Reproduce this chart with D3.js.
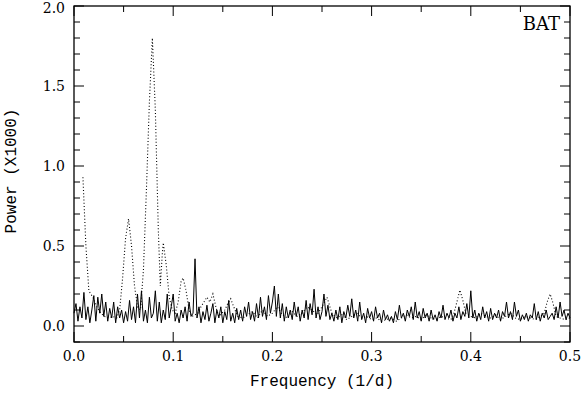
<!DOCTYPE html>
<html><head><meta charset="utf-8">
<script src="https://cdn.jsdelivr.net/npm/d3@7"></script>
<style>body{margin:0;background:#fff}</style>
</head><body>
<script>
// Solid series: power on a 0.002 (1/d) frequency grid from 0 to 0.5
const solidStep = 0.002;
const solidPower = [
0.08,0.14,0.03,0.12,0.05,0.21,0.04,0.12,0.02,0.10,
0.19,0.03,0.18,0.08,0.20,0.06,0.15,0.03,0.11,0.05,
0.15,0.02,0.12,0.05,0.10,0.02,0.09,0.03,0.16,0.04,
0.12,0.02,0.20,0.05,0.22,0.03,0.10,0.02,0.18,0.05,
0.08,0.22,0.03,0.15,0.02,0.10,0.04,0.20,0.05,0.12,
0.20,0.03,0.08,0.02,0.10,0.05,0.12,0.03,0.15,0.06,
0.08,0.42,0.05,0.12,0.02,0.09,0.04,0.13,0.03,0.08,
0.14,0.02,0.10,0.05,0.12,0.02,0.09,0.04,0.16,0.03,
0.08,0.02,0.11,0.04,0.10,0.03,0.12,0.06,0.15,0.04,
0.09,0.03,0.14,0.05,0.18,0.06,0.12,0.04,0.19,0.08,
0.15,0.25,0.06,0.20,0.05,0.14,0.03,0.12,0.05,0.10,
0.04,0.15,0.06,0.12,0.03,0.10,0.05,0.16,0.04,0.14,
0.07,0.23,0.05,0.12,0.04,0.09,0.20,0.06,0.13,0.04,
0.08,0.03,0.10,0.04,0.12,0.02,0.09,0.05,0.13,0.06,
0.17,0.05,0.10,0.03,0.15,0.04,0.08,0.02,0.11,0.05,
0.09,0.03,0.12,0.05,0.08,0.02,0.10,0.04,0.07,0.03,
0.06,0.02,0.09,0.04,0.13,0.05,0.08,0.03,0.10,0.06,
0.12,0.04,0.15,0.05,0.09,0.03,0.11,0.05,0.08,0.03,
0.10,0.04,0.07,0.03,0.09,0.05,0.13,0.04,0.08,0.05,
0.10,0.03,0.08,0.05,0.12,0.04,0.09,0.06,0.14,0.05,
0.22,0.05,0.10,0.03,0.08,0.04,0.12,0.05,0.09,0.03,
0.11,0.04,0.08,0.05,0.10,0.03,0.09,0.06,0.15,0.05,
0.09,0.04,0.15,0.06,0.10,0.03,0.07,0.04,0.08,0.03,
0.07,0.05,0.14,0.04,0.09,0.03,0.08,0.05,0.10,0.04,
0.06,0.08,0.04,0.12,0.05,0.15,0.06,0.10,0.04,0.08,
0.05];

// Dotted series: frequency / power pairs
const dottedFreq = [0.009,0.012,0.015,0.019,0.023,0.027,0.031,0.035,0.039,0.043,0.046,0.049,0.052,0.055,0.058,0.061,0.064,0.067,0.070,0.073,0.076,0.079,0.082,0.085,0.087,0.089,0.090,0.093,0.096,0.099,0.102,0.105,0.108,0.110,0.113,0.116,0.119,0.122,0.125,0.128,0.131,0.134,0.137,0.140,0.143,0.146,0.149,0.152,0.155,0.158,0.161,0.165,0.170,0.175,0.180,0.185,0.190,0.195,0.200,0.205,0.210,0.215,0.220,0.225,0.230,0.235,0.240,0.245,0.250,0.255,0.260,0.265,0.270,0.275,0.280,0.285,0.290,0.295,0.300,0.305,0.310,0.315,0.320,0.325,0.330,0.335,0.340,0.345,0.350,0.355,0.360,0.365,0.370,0.375,0.380,0.383,0.386,0.389,0.392,0.395,0.400,0.405,0.410,0.415,0.420,0.425,0.430,0.435,0.440,0.445,0.450,0.455,0.460,0.465,0.470,0.474,0.477,0.480,0.483,0.486,0.490,0.495,0.500];
const dottedPower = [0.93,0.50,0.22,0.18,0.12,0.08,0.06,0.05,0.06,0.05,0.10,0.30,0.55,0.67,0.50,0.25,0.12,0.10,0.35,0.85,1.40,1.80,1.35,0.60,0.25,0.45,0.52,0.38,0.18,0.10,0.08,0.15,0.28,0.30,0.22,0.10,0.06,0.07,0.08,0.12,0.15,0.18,0.15,0.20,0.12,0.06,0.08,0.10,0.14,0.17,0.12,0.06,0.05,0.07,0.09,0.05,0.10,0.06,0.08,0.12,0.07,0.05,0.09,0.06,0.08,0.12,0.10,0.07,0.12,0.18,0.08,0.05,0.07,0.04,0.06,0.08,0.05,0.06,0.04,0.05,0.03,0.04,0.05,0.03,0.05,0.07,0.05,0.06,0.04,0.07,0.05,0.04,0.06,0.05,0.04,0.08,0.15,0.225,0.16,0.08,0.06,0.05,0.08,0.06,0.05,0.07,0.04,0.06,0.08,0.05,0.04,0.06,0.05,0.04,0.06,0.08,0.15,0.20,0.14,0.06,0.05,0.04,0.05];

const xMajorTicks = [0.0,0.1,0.2,0.3,0.4,0.5];
const xMinorTicks = [0.05,0.15,0.25,0.35,0.45];
const yMajorTicks = [0.0,0.5,1.0,1.5,2.0];
const yMinorTicks = [-0.1,0.1,0.2,0.3,0.4,0.6,0.7,0.8,0.9,1.1,1.2,1.3,1.4,1.6,1.7,1.8,1.9];
const xTitle = "Frequency (1/d)";
const yTitle = "Power (X1000)";
const label = "BAT";

const W = 582, H = 395;
const L = 74, R = 570, T = 6, B = 342;
const svg = d3.select("body").append("svg").attr("width", W).attr("height", H);
const x = d3.scaleLinear().domain([0, 0.5]).range([L, R]);
const y = d3.scaleLinear().domain([-0.1, 2.0]).range([B, T]);

const solidData = solidPower.map((v, i) => [i * solidStep, v]);
const dottedData = dottedFreq.map((f, i) => [f, dottedPower[i]]);
const line = d3.line().x(d => x(d[0])).y(d => y(d[1]));

const g = svg.append("g");
g.append("path").datum(dottedData).attr("d", line)
  .attr("fill", "none").attr("stroke", "#000").attr("stroke-width", 1.1)
  .attr("stroke-dasharray", "1,2.2");
g.append("path").datum(solidData).attr("d", line)
  .attr("fill", "none").attr("stroke", "#000").attr("stroke-width", 1);

// ticks on all four sides, pointing inward
const tickFont = "'DejaVu Serif', serif";
const MAJ = 10, MIN = 6;
const tk = svg.append("g").attr("stroke", "#000").attr("stroke-width", 1);
xMajorTicks.forEach(v => {
  tk.append("line").attr("x1", x(v)).attr("x2", x(v)).attr("y1", B).attr("y2", B - MAJ);
  tk.append("line").attr("x1", x(v)).attr("x2", x(v)).attr("y1", T).attr("y2", T + MAJ);
});
xMinorTicks.forEach(v => {
  tk.append("line").attr("x1", x(v)).attr("x2", x(v)).attr("y1", B).attr("y2", B - MIN);
  tk.append("line").attr("x1", x(v)).attr("x2", x(v)).attr("y1", T).attr("y2", T + MIN);
});
yMajorTicks.forEach(v => {
  tk.append("line").attr("x1", L).attr("x2", L + MAJ).attr("y1", y(v)).attr("y2", y(v));
  tk.append("line").attr("x1", R).attr("x2", R - MAJ).attr("y1", y(v)).attr("y2", y(v));
});
yMinorTicks.forEach(v => {
  tk.append("line").attr("x1", L).attr("x2", L + MIN).attr("y1", y(v)).attr("y2", y(v));
  tk.append("line").attr("x1", R).attr("x2", R - MIN).attr("y1", y(v)).attr("y2", y(v));
});

svg.append("rect").attr("x", L).attr("y", T).attr("width", R - L).attr("height", B - T)
  .attr("fill", "none").attr("stroke", "#000").attr("stroke-width", 1.3);

svg.selectAll(".xl").data(xMajorTicks).enter().append("text")
  .attr("x", d => x(d)).attr("y", 361).attr("text-anchor", "middle")
  .attr("font-family", tickFont).attr("font-size", 14).text(d => d3.format(".1f")(d));
svg.selectAll(".yl").data(yMajorTicks).enter().append("text")
  .attr("x", 65).attr("y", d => Math.max(y(d) + 5, 13)).attr("text-anchor", "end")
  .attr("font-family", tickFont).attr("font-size", 14).text(d => d3.format(".1f")(d));

svg.append("text").attr("x", (L + R) / 2).attr("y", 386).attr("text-anchor", "middle")
  .attr("font-family", "'Liberation Mono', monospace").attr("font-size", 16).text(xTitle);
svg.append("text").attr("transform", "translate(16,171) rotate(-90)").attr("text-anchor", "middle")
  .attr("font-family", "'Liberation Mono', monospace").attr("font-size", 16).text(yTitle);
svg.append("text").attr("x", 560).attr("y", 30).attr("text-anchor", "end")
  .attr("font-family", tickFont).attr("font-size", 18).text(label);
</script>
</body></html>
